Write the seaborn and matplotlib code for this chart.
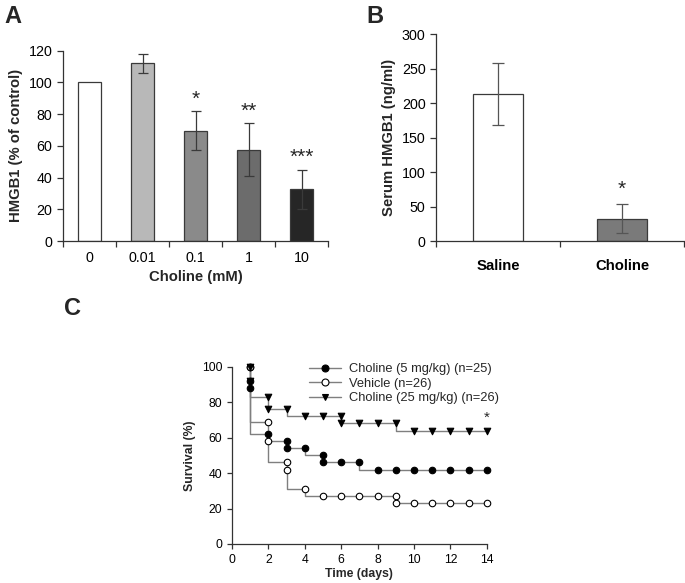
import matplotlib
matplotlib.use("Agg")
import matplotlib.pyplot as plt
import seaborn as sns
import pandas as pd
import numpy as np
from matplotlib.lines import Line2D

# ---------------- data ----------------
# Panel A
a_doses = ["0", "0.01", "0.1", "1", "10"]
a_values = [100, 112, 69.4, 57.6, 32.5]
a_errors = [0, 6, 12.3, 16.6, 12.5]
a_stars = ["", "", "*", "**", "***"]
a_colors = ["#ffffff", "#b8b8b8", "#8a8a8a", "#6c6c6c", "#262626"]

# Panel B
b_groups = ["Saline", "Choline"]
b_values = [214, 33]
b_errors = [45, 20.5]
b_stars = ["", "*"]
b_colors = ["#ffffff", "#7a7a7a"]

# Panel C (Kaplan-Meier marker points)
c5_days = [1, 1, 1, 2, 3, 3, 4, 5, 5, 6, 7, 8, 9, 10, 11, 12, 13, 14]
c5_surv = [100, 92, 88, 62, 58, 54, 54, 50, 46, 46, 46, 42, 42, 42, 42, 42, 42, 42]
veh_days = [1, 2, 2, 3, 3, 4, 5, 6, 7, 8, 9, 9, 10, 11, 12, 13, 14]
veh_surv = [100, 69, 58, 46, 42, 31, 27, 27, 27, 27, 27, 23, 23, 23, 23, 23, 23]
c25_days = [1, 1, 2, 2, 3, 4, 5, 6, 6, 7, 8, 9, 10, 11, 12, 13, 14]
c25_surv = [100, 92, 83, 76, 76, 72, 72, 72, 68, 68, 68, 68, 64, 64, 64, 64, 64]
c_labels = ["Choline (5 mg/kg) (n=25)", "Vehicle (n=26)", "Choline (25 mg/kg) (n=26)"]

# ---------------- style ----------------
sns.set_style("ticks")
plt.rcParams["font.family"] = ["Liberation Sans", "DejaVu Sans"]
axis_col = "#333333"

fig = plt.figure(figsize=(6.85, 5.83), dpi=100)

def style_axes(ax, fs):
    for s in ["top", "right"]:
        ax.spines[s].set_visible(False)
    for s in ["left", "bottom"]:
        ax.spines[s].set_color(axis_col)
        ax.spines[s].set_linewidth(0.9)
    ax.tick_params(axis="both", colors=axis_col, labelcolor="black",
                   labelsize=fs, length=4, width=0.9, direction="out")

# ---------------- Panel A ----------------
axA = fig.add_axes([0.092, 0.5866, 0.387, 0.3264])
dfA = pd.DataFrame({"dose": a_doses, "value": a_values})
sns.barplot(data=dfA, x="dose", y="value", hue="dose", palette=a_colors,
            order=a_doses, hue_order=a_doses, legend=False, width=0.43,
            edgecolor="#3a3a3a", linewidth=0.9, errorbar=None, ax=axA)
xs = np.arange(len(a_doses))
for i in range(1, len(a_doses)):
    axA.errorbar(xs[i], a_values[i], yerr=a_errors[i], fmt="none",
                 ecolor="#3a3a3a", elinewidth=0.9, capsize=3.5, capthick=0.9)
    if a_stars[i]:
        axA.text(xs[i], a_values[i] + a_errors[i] + 1.5, a_stars[i],
                 ha="center", va="bottom", fontsize=15)
axA.set_xlim(-0.5, 4.5)
axA.set_ylim(0, 120)
axA.set_yticks(range(0, 121, 20))
axA.set_xticks(xs)
axA.set_xticklabels(a_doses)
axA.set_xticks(np.arange(-0.5, 4.6, 1), minor=True)
style_axes(axA, 10.3)
axA.tick_params(axis="x", which="major", length=0, pad=7)
axA.tick_params(axis="x", which="minor", length=4, color=axis_col, width=0.9)
axA.set_xlabel("Choline (mM)", fontsize=10.7, fontweight="bold", labelpad=4)
axA.set_ylabel("HMGB1 (% of control)", fontsize=10.7, fontweight="bold", labelpad=4)
fig.text(0.006, 0.972, "A", fontsize=17, fontweight="bold", va="center")

# ---------------- Panel B ----------------
axB = fig.add_axes([0.6365, 0.586, 0.362, 0.355])
dfB = pd.DataFrame({"group": b_groups, "value": b_values})
sns.barplot(data=dfB, x="group", y="value", hue="group", palette=b_colors,
            order=b_groups, hue_order=b_groups, legend=False, width=0.4,
            edgecolor="#3a3a3a", linewidth=0.9, errorbar=None, ax=axB)
xb = np.arange(len(b_groups))
for i in range(len(b_groups)):
    axB.errorbar(xb[i], b_values[i], yerr=b_errors[i], fmt="none",
                 ecolor="#555555", elinewidth=0.9, capsize=4, capthick=0.9)
    if b_stars[i]:
        axB.text(xb[i], b_values[i] + b_errors[i] + 8, b_stars[i],
                 ha="center", va="bottom", fontsize=15)
axB.set_xlim(-0.5, 1.5)
axB.set_ylim(0, 300)
axB.set_yticks(range(0, 301, 50))
axB.set_xticks(xb)
axB.set_xticklabels(b_groups)
axB.set_xticks([-0.5, 0.5, 1.5], minor=True)
style_axes(axB, 10.3)
axB.tick_params(axis="x", which="major", length=0, pad=13, labelsize=10.7)
axB.tick_params(axis="x", which="minor", length=4, color=axis_col, width=0.9)
for lab in axB.get_xticklabels():
    lab.set_fontweight("bold")
axB.set_xlabel("")
axB.set_ylabel("Serum HMGB1 (ng/ml)", fontsize=10.7, fontweight="bold", labelpad=4)
fig.text(0.535, 0.972, "B", fontsize=17, fontweight="bold", va="center")

# ---------------- Panel C ----------------
axC = fig.add_axes([0.3387, 0.0669, 0.372, 0.304])
line_col = "#7f7f7f"
series = [
    (c5_days, c5_surv, "o", "black"),
    (veh_days, veh_surv, "o", "white"),
    (c25_days, c25_surv, "v", "black"),
]
handles = []
for (d, s, m, fc), lab in zip(series, c_labels):
    dfc = pd.DataFrame({"day": d, "surv": s})
    axC.plot(dfc["day"], dfc["surv"], drawstyle="steps-pre", color=line_col,
             lw=1.0, zorder=2)
    sns.scatterplot(data=dfc, x="day", y="surv", marker=m, s=22,
                    color=fc, edgecolor="black", linewidth=0.8, zorder=3,
                    ax=axC, legend=False, clip_on=False)
    handles.append(Line2D([0], [0], color=line_col, lw=1.0, marker=m,
                          markersize=5, markerfacecolor=fc,
                          markeredgecolor="black", markeredgewidth=0.8,
                          label=lab))
axC.text(14, 67, "*", ha="center", va="bottom", fontsize=11)
axC.set_xlim(0, 14)
axC.set_ylim(0, 100)
axC.set_xticks(range(0, 15, 2))
axC.set_yticks(range(0, 101, 20))
style_axes(axC, 8.8)
axC.tick_params(length=3.5)
axC.set_xlabel("Time (days)", fontsize=8.8, fontweight="bold", labelpad=2)
axC.set_ylabel("Survival (%)", fontsize=8.8, fontweight="bold", labelpad=4)
leg = axC.legend(handles=handles, loc="upper left", bbox_to_anchor=(0.28, 1.05),
                 frameon=False, fontsize=9.3, handlelength=2.5, handletextpad=0.6,
                 labelspacing=0.2, borderaxespad=0)
fig.text(0.093, 0.47, "C", fontsize=17, fontweight="bold", va="center")

fig.savefig("out.png", dpi=100)
